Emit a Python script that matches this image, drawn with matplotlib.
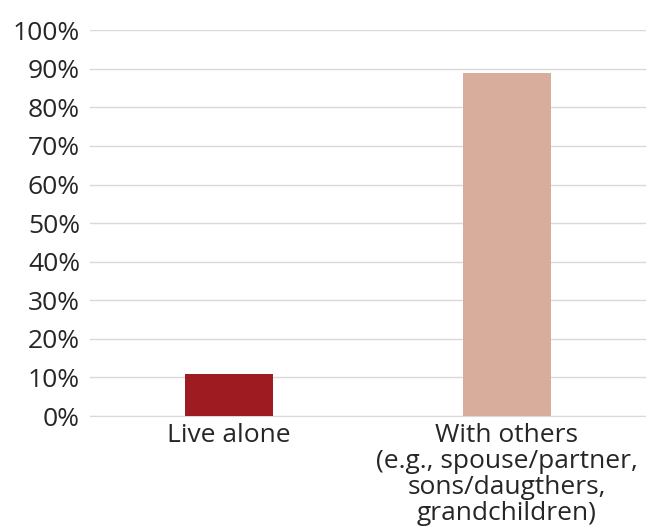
import matplotlib
matplotlib.use("Agg")
import matplotlib.pyplot as plt
import matplotlib.ticker as ticker

categories = ["Live alone",
              "With others\n(e.g., spouse/partner,\nsons/daugthers,\ngrandchildren)"]
shares = [11, 89]
bar_colors = ["#9e1b22", "#d8ad9b"]
y_ticks = list(range(0, 101, 10))

plt.rcParams['font.family'] = ['Open Sans', 'DejaVu Sans']

fig = plt.figure(figsize=(6.46, 5.30), dpi=100)
ax = fig.add_axes([0.139, 0.215, 0.861, 0.728])

x = range(len(categories))
ax.bar(x, shares, width=0.317, color=bar_colors, zorder=3)

ax.set_ylim(0, 100)
ax.set_xlim(-0.5, 1.5)
ax.set_yticks(y_ticks)
ax.yaxis.set_major_formatter(ticker.FuncFormatter(lambda v, p: f"{int(v)}%"))
ax.set_xticks(list(x))
ax.set_xticklabels(categories, linespacing=1.06)

ax.grid(axis='y', color='#d9d9d9', linewidth=1.0, zorder=0)
for s in ['top', 'right', 'left']:
    ax.spines[s].set_visible(False)
ax.spines['bottom'].set_color('#d9d9d9')
ax.tick_params(axis='both', length=0, labelsize=19, colors='#262626')
ax.tick_params(axis='y', pad=7)
ax.tick_params(axis='x', pad=5)

plt.savefig('out.png', dpi=100)
